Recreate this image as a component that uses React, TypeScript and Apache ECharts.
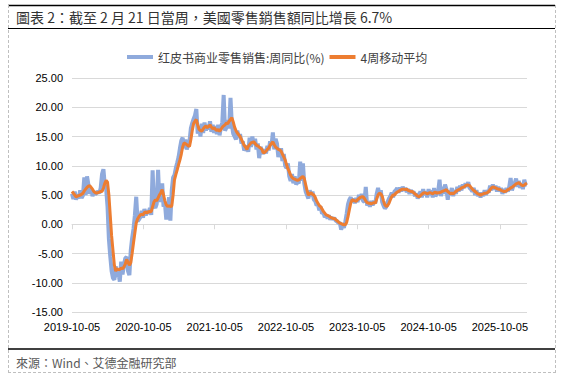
import React, { useEffect, useRef } from "react";
import * as echarts from "echarts";

const TITLE = "圖表 2：截至 2 月 21 日當周，美國零售銷售額同比增長 6.7%";
const SOURCE = "來源：Wind、艾德金融研究部";
const SERIES_NAMES = ["红皮书商业零售销售:周同比(%)", "4周移动平均"];
const START_DATE = "2019-10-05"; // first weekly observation (Saturdays)
const TICK_DATES = [
  "2019-10-05", "2020-10-05", "2021-10-05", "2022-10-05",
  "2023-10-05", "2024-10-05", "2025-10-05",
];
const Y_MIN = -15;
const Y_MAX = 25;
const Y_STEP = 5;

// weekly YoY (%)
const yoyValues = [
  5.2, 4.3, 5.6, 4.2, 5.1, 4.4, 5.8, 4.5, 4.9, 8.0,
  5.0, 8.2, 6.8, 5.2, 5.9, 4.8, 5.6, 5.1, 5.4, 5.6,
  5.3, 6.2, 8.6, 9.4, 6.7, 6.0, 3.0, -2.5, -5.5, -8.0,
  -9.2, -9.5, -7.2, -9.0, -8.4, -9.8, -6.4, -8.6, -7.0, -5.8,
  -5.6, -8.0, -8.7, -4.5, -2.4, -0.8, 1.5, 4.7, 0.5, 0.8,
  1.2, 2.3, 1.1, 2.6, 1.5, 2.4, 1.8, 2.8, 1.6, 9.2,
  3.2, 2.8, 3.5, 9.3, 3.8, 5.2, 7.0, 3.0, 3.6, 0.8,
  2.5, 4.6, 0.6, 5.8, 8.0, 8.4, 9.6, 10.5, 11.5, 13.0,
  14.3, 14.8, 13.0, 14.5, 12.8, 13.6, 14.2, 16.4, 17.3, 18.0,
  18.6, 19.7, 15.5, 16.8, 15.0, 17.2, 15.6, 17.4, 16.0, 17.0,
  16.2, 17.6, 15.8, 17.0, 15.6, 16.8, 15.4, 17.0, 15.2, 16.6,
  17.4, 22.1, 16.0, 16.5, 17.8, 16.4, 21.6, 17.0, 15.5, 15.0,
  14.5, 16.0, 14.8, 15.4, 13.8, 14.2, 12.6, 13.0, 13.4, 12.4,
  14.8, 13.2, 15.0, 13.6, 14.6, 12.8, 13.8, 11.3, 13.2, 12.6,
  12.0, 12.8, 12.1, 13.4, 12.6, 14.2, 13.4, 15.7, 12.8, 14.6,
  13.8, 11.5, 12.2, 13.0, 10.8, 12.0, 10.0, 9.6, 10.4, 8.2,
  7.4, 8.6, 7.0, 8.2, 6.8, 7.2, 7.0, 10.7, 7.4, 10.4,
  7.0, 5.6, 5.0, 4.4, 5.8, 4.8, 5.6, 4.2, 4.0, 3.2,
  3.4, 2.4, 3.0, 1.8, 2.0, 1.2, 1.6, 1.0, 1.5, 0.8,
  1.2, 0.8, 1.1, 0.6, 0.5, 0.2, 0.3, -0.9, -0.2, -0.6,
  0.4, 1.8, 3.4, 4.2, 4.6, 3.8, 4.4, 3.6, 4.5, 3.8,
  5.0, 4.2, 5.2, 4.0, 3.8, 6.4, 3.2, 3.8, 3.0, 4.0,
  3.2, 4.0, 3.6, 5.2, 6.2, 5.0, 5.8, 3.8, 3.2, 2.7,
  3.0, 3.8, 4.4, 4.8, 5.4, 4.6, 5.6, 5.8, 6.2, 5.4,
  6.3, 5.6, 6.4, 5.8, 6.2, 5.5, 6.0, 5.2, 5.8, 5.4,
  5.6, 4.8, 5.3, 4.4, 4.9, 5.6, 4.6, 6.0, 5.0, 5.6,
  4.6, 6.0, 5.0, 5.8, 4.6, 6.2, 4.8, 5.2, 5.6, 7.6,
  4.8, 6.4, 5.2, 6.8, 6.0, 4.2, 5.8, 5.0, 6.2, 4.8,
  5.8, 5.2, 6.4, 5.6, 6.6, 5.8, 6.8, 6.2, 7.0, 6.4,
  7.2, 6.2, 6.0, 5.6, 6.2, 5.0, 5.8, 4.8, 5.4, 4.6,
  5.4, 4.8, 5.8, 5.0, 5.8, 5.4, 6.6, 5.8, 6.8, 6.0,
  6.6, 5.6, 6.4, 5.6, 6.2, 5.2, 6.0, 5.4, 6.2, 5.6,
  6.4, 7.9, 5.8, 6.6, 7.0, 7.8, 6.4, 7.4, 6.2, 7.0,
  6.0, 7.6, 6.8, 6.7,
];

// 4-week moving average (%)
const ma4Values = [
  5.6, 5.3, 5.0, 4.7, 4.8, 4.9, 5.0, 5.1, 5.3, 5.7,
  6.0, 6.3, 6.5, 6.6, 6.3, 6.0, 5.6, 5.4, 5.3, 5.4,
  5.5, 5.6, 5.6, 6.2, 7.0, 7.5, 7.2, 5.0, 1.5, -2.0,
  -4.5, -7.0, -8.0, -7.6, -7.8, -7.7, -7.5, -7.6, -7.3, -6.8,
  -6.0, -6.5, -7.0, -6.6, -5.0, -3.2, -1.5, 0.2, 0.9, 1.3,
  1.6, 1.7, 1.6, 2.0, 2.1, 1.9, 2.2, 2.1, 2.2, 3.0,
  3.8, 4.2, 4.0, 4.5, 5.0, 5.4, 5.9, 5.0, 4.0, 3.3,
  3.0, 3.2, 3.0, 3.1, 5.0, 7.6, 8.5, 9.3, 10.2, 11.0,
  12.0, 13.2, 13.9, 13.8, 13.6, 13.4, 13.3, 14.5, 16.0, 17.2,
  17.6, 17.9, 17.0, 16.2, 16.0, 15.9, 16.3, 16.6, 16.8, 16.5,
  16.7, 17.0, 16.6, 16.3, 16.5, 16.2, 16.0, 16.2, 15.9, 16.2,
  16.6, 16.8, 17.0, 17.3, 17.2, 17.6, 17.9, 18.2, 17.5, 16.6,
  16.0, 15.6, 15.3, 15.0, 14.5, 14.0, 13.5, 13.2, 12.8, 13.3,
  13.6, 13.9, 14.0, 14.1, 13.8, 13.5, 13.4, 13.2, 13.0, 12.8,
  12.2, 12.3, 12.5, 12.8, 13.0, 13.5, 13.8, 14.1, 13.6, 13.2,
  13.0, 12.8, 12.7, 12.5, 12.0, 11.5, 11.0, 10.2, 9.5, 9.0,
  8.4, 8.0, 7.8, 7.7, 7.6, 7.5, 7.6, 7.8, 8.0, 8.2,
  7.8, 6.8, 5.8, 5.0, 5.2, 5.4, 5.1, 5.0, 4.6, 4.0,
  3.6, 3.2, 3.0, 2.6, 2.2, 1.9, 1.6, 1.5, 1.4, 1.2,
  1.1, 1.0, 1.0, 0.8, 0.6, 0.4, 0.2, 0.1, 0.0, -0.1,
  -0.1, 0.3, 1.3, 2.5, 3.6, 4.2, 4.1, 4.0, 3.9, 4.2,
  4.4, 4.6, 4.7, 4.7, 4.4, 4.0, 3.7, 3.6, 3.6, 3.5,
  3.6, 3.7, 3.6, 4.3, 5.0, 5.3, 5.2, 4.8, 4.0, 3.3,
  3.0, 3.2, 3.6, 4.2, 4.7, 5.0, 5.0, 5.3, 5.5, 5.6,
  5.8, 5.9, 6.0, 6.0, 5.9, 6.0, 5.8, 5.7, 5.6, 5.6,
  5.4, 5.2, 5.0, 4.8, 4.7, 4.9, 5.1, 5.3, 5.4, 5.3,
  5.2, 5.3, 5.4, 5.3, 5.2, 5.4, 5.5, 5.3, 5.4, 5.4,
  5.5, 5.6, 5.7, 5.8, 5.9, 5.6, 5.4, 5.2, 5.3, 5.2,
  5.4, 5.6, 5.8, 5.9, 6.0, 6.2, 6.3, 6.4, 6.6, 6.7,
  6.7, 6.6, 6.3, 6.0, 5.8, 5.6, 5.4, 5.2, 5.1, 5.0,
  5.1, 5.2, 5.3, 5.3, 5.4, 5.6, 5.9, 6.2, 6.4, 6.3,
  6.2, 6.1, 6.0, 6.0, 5.8, 5.7, 5.6, 5.6, 5.7, 5.9,
  6.0, 6.2, 6.3, 6.5, 6.7, 6.9, 7.0, 7.1, 6.9, 6.7,
  6.6, 6.7, 6.9, 7.0,
];

const DAY = 86400000;
const toTs = (s: string) => Date.parse(s + "T00:00:00Z");
const pad = (n: number) => (n < 10 ? "0" + n : "" + n);
const fmtDate = (ts: number) => {
  const d = new Date(ts);
  return d.getUTCFullYear() + "-" + pad(d.getUTCMonth() + 1) + "-" + pad(d.getUTCDate());
};

const startTs = toTs(START_DATE);
const weekTs = yoyValues.map((_, i) => startTs + i * 7 * DAY);
const tickTs = TICK_DATES.map(toTs);

const BLUE = "#8FAADC";
const ORANGE = "#ED7D31";
const GRID_COLOR = "#D9D9D9";
const LATIN = "'Liberation Sans', Arial, sans-serif";
const CJK_TC = "'Noto Sans CJK TC', 'Noto Sans CJK SC', sans-serif";
const CJK_SC = "'Noto Sans CJK SC', sans-serif";

export default function App() {
  const ref = useRef<HTMLDivElement>(null);

  useEffect(() => {
    if (!ref.current) return;
    const chart = echarts.init(ref.current, undefined, { renderer: "svg" });
    const xMin = weekTs[0];
    const xMax = weekTs[weekTs.length - 1];
    const option: any = {
      animation: false,
      backgroundColor: "#ffffff",
      grid: { left: 72, right: 38, top: 78, bottom: 73, containLabel: false },
      legend: {
        left: 122,
        top: 46,
        itemWidth: 26,
        itemHeight: 4,
        itemGap: 5,
        icon: "rect",
        textStyle: { fontFamily: CJK_SC, fontSize: 12, color: "#404040" },
        data: SERIES_NAMES,
      },
      xAxis: [
        {
          type: "value",
          min: xMin,
          max: xMax,
          position: "bottom",
          axisLine: { show: false, onZero: false },
          axisTick: { show: false },
          splitLine: { show: false },
          axisLabel: {
            customValues: tickTs,
            formatter: (v: number) => fmtDate(v),
            fontFamily: LATIN,
            fontSize: 11,
            color: "#000000",
            margin: 9,
            hideOverlap: false,
          },
        },
        {
          type: "value",
          min: xMin,
          max: xMax,
          position: "bottom",
          axisLine: { show: true, onZero: true, lineStyle: { color: GRID_COLOR, width: 1 } },
          axisTick: { show: true, customValues: tickTs, length: 5, lineStyle: { color: GRID_COLOR } },
          axisLabel: { show: false },
          splitLine: { show: false },
        },
      ],
      yAxis: {
        type: "value",
        min: Y_MIN,
        max: Y_MAX,
        interval: Y_STEP,
        axisLine: { show: false },
        axisTick: { show: false },
        splitLine: { lineStyle: { color: GRID_COLOR, width: 1 } },
        axisLabel: {
          formatter: (v: number) => v.toFixed(2),
          fontFamily: LATIN,
          fontSize: 11,
          color: "#000000",
          margin: 9,
        },
      },
      series: [
        {
          name: SERIES_NAMES[0],
          type: "line",
          xAxisIndex: 0,
          data: yoyValues.map((v, i) => [weekTs[i], v]),
          showSymbol: false,
          lineStyle: { color: BLUE, width: 4 },
          itemStyle: { color: BLUE },
          z: 2,
        },
        {
          name: SERIES_NAMES[1],
          type: "line",
          xAxisIndex: 0,
          data: ma4Values.map((v, i) => [weekTs[i], v]),
          showSymbol: false,
          lineStyle: { color: ORANGE, width: 3 },
          itemStyle: { color: ORANGE },
          z: 3,
        },
      ],
      graphic: [
        { type: "line", shape: { x1: 8, y1: 5.5, x2: 555, y2: 5.5 }, style: { stroke: "#000", lineWidth: 1.5 }, silent: true },
        { type: "line", shape: { x1: 8, y1: 28.5, x2: 555, y2: 28.5 }, style: { stroke: "#000", lineWidth: 1 }, silent: true },
        { type: "line", shape: { x1: 8, y1: 349, x2: 555, y2: 349 }, style: { stroke: "#000", lineWidth: 1.5 }, silent: true },
        { type: "line", shape: { x1: 8.5, y1: 5, x2: 8.5, y2: 373 }, style: { stroke: "#BFBFBF", lineWidth: 1, lineDash: [3, 2] }, silent: true },
        { type: "line", shape: { x1: 555.5, y1: 5, x2: 555.5, y2: 373 }, style: { stroke: "#BFBFBF", lineWidth: 1, lineDash: [3, 2] }, silent: true },
        { type: "line", shape: { x1: 8, y1: 372.5, x2: 556, y2: 372.5 }, style: { stroke: "#BFBFBF", lineWidth: 1, lineDash: [3, 2] }, silent: true },
        {
          type: "text",
          x: 16,
          y: 17,
          style: { text: TITLE, fontFamily: CJK_TC, fontSize: 14, fill: "#333333", verticalAlign: "middle", align: "left" },
          silent: true,
        },
        {
          type: "text",
          x: 16,
          y: 362,
          style: { text: SOURCE, fontFamily: CJK_TC, fontSize: 12, fill: "#595959", verticalAlign: "middle", align: "left" },
          silent: true,
        },
      ],
    };
    chart.setOption(option);
    return () => chart.dispose();
  }, []);

  return (
    <div
      ref={ref}
      style={{ position: "fixed", left: 0, top: 0, width: 565, height: 385, background: "#fff" }}
    />
  );
}
